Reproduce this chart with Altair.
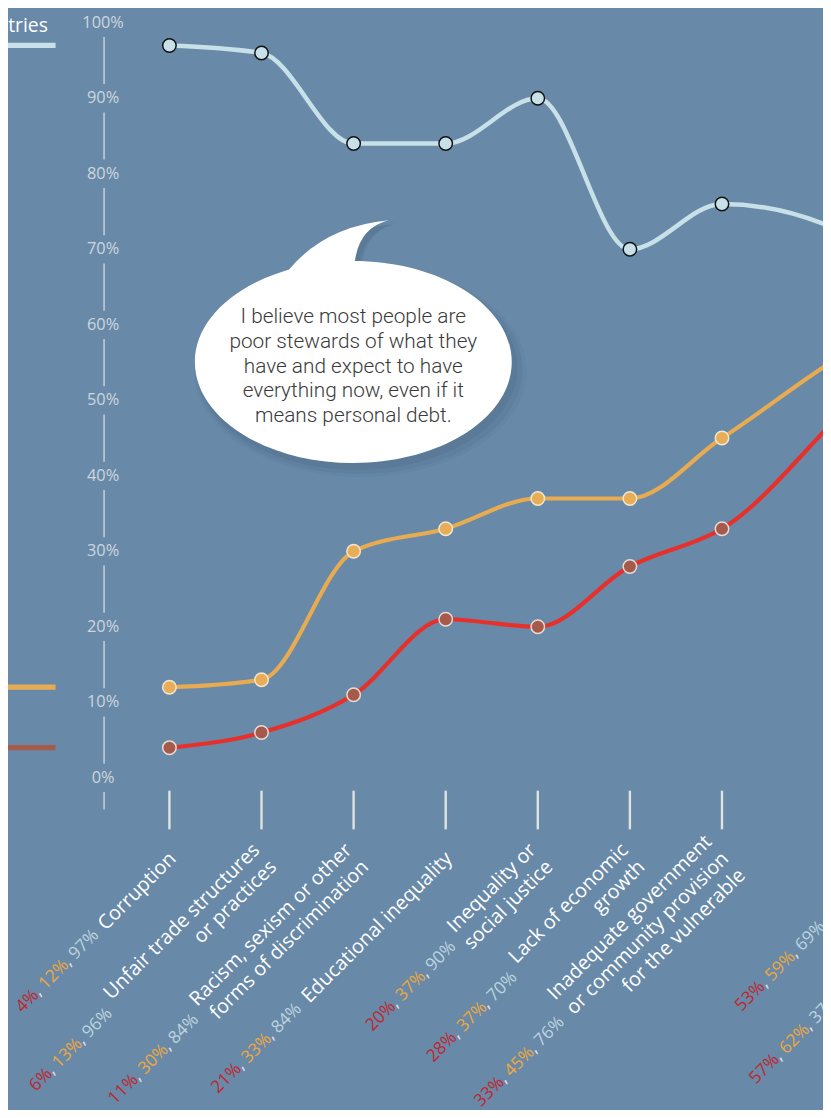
import altair as alt
import pandas as pd

# ---------------- data ----------------
category_names = [
    "Corruption",
    "Unfair trade structures\nor practices",
    "Racism, sexism or other\nforms of discrimination",
    "Educational inequality",
    "Inequality or\nsocial justice",
    "Lack of economic\ngrowth",
    "Inadequate government\nor community provision\nfor the vulnerable",
    "",
    "",
]
red_values = [4, 6, 11, 21, 20, 28, 33, 53, 57]
orange_values = [12, 13, 30, 33, 37, 37, 45, 59, 62]
grey_values = [97, 96, 84, 84, 90, 70, 76, 69, 37]
series_keys = ["grey", "orange", "red"]
legend_title = "Countries"
y_tick_values = [0, 10, 20, 30, 40, 50, 60, 70, 80, 90, 100]
quote_lines = [
    "I believe most people are",
    "poor stewards of what they",
    "have and expect to have",
    "everything now, even if it",
    "means personal debt.",
]

# ---------------- layout / style ----------------
W, H = 823, 1102
BG = "#6889a8"
FONT = "Open Sans"
x_scale = alt.Scale(domain=[0, 6, 7, 8], range=[163, 721, 888, 976], nice=False, zero=False)
y_scale = alt.Scale(domain=[0, 100], range=[772, 9.5], nice=False, zero=False)

LINE_COL = {"grey": "#c8e1e9", "orange": "#e9ab50", "red": "#e8302b"}
LINE_W = {"grey": 4.5, "orange": 4.2, "red": 4.2}
PT_FILL = {"grey": "#c8e1e9", "orange": "#e8ad57", "red": "#a65a4b"}
PT_STROKE = {"grey": "#111111", "orange": "#f1e7d3", "red": "#eadbd3"}
BAR_COL = {"grey": "#c8e1e9", "orange": "#e8ab55", "red": "#a65a4b"}
TXT_COL = {"red": "#c0262e", "orange": "#eea83f", "grey": "#bdd5de", "comma": "#e3e9ed"}
AXIS_COL = "#cdd7df"

NAME_SIZE, NAME_LH = 20, 24
PCT_SIZE = 17.5
ANCHOR_Y = 850.5
ANCHOR_DX = 3.5
GAP = 8
hidden_name_width = {7: 90, 8: 194}

OS_W = {' ': 532, ',': 502, '%': 1653, '.': 545, '-': 659,
        'A': 1296, 'B': 1327, 'C': 1292, 'D': 1493, 'E': 1139, 'F': 1057, 'G': 1491,
        'H': 1511, 'I': 571, 'J': 547, 'K': 1257, 'L': 1063, 'M': 1849, 'N': 1544,
        'O': 1595, 'P': 1233, 'Q': 1595, 'R': 1266, 'S': 1124, 'T': 1133, 'U': 1503,
        'V': 1219, 'W': 1896, 'X': 1182, 'Y': 1147, 'Z': 1169,
        'a': 1186, 'b': 1255, 'c': 1004, 'd': 1255, 'e': 1149, 'f': 694, 'g': 1122,
        'h': 1257, 'i': 518, 'j': 518, 'k': 1075, 'l': 518, 'm': 1905, 'n': 1257,
        'o': 1237, 'p': 1255, 'q': 1255, 'r': 836, 's': 977, 't': 723, 'u': 1257,
        'v': 1026, 'w': 1593, 'x': 1073, 'y': 1028, 'z': 977}
for d in "0123456789":
    OS_W[d] = 1171


def tw(s, size):
    return sum(OS_W.get(ch, 1150) for ch in s) / 2048.0 * size


# ---------------- tables ----------------
vals = {"grey": grey_values, "orange": orange_values, "red": red_values}
long_df = pd.DataFrame(
    [{"order": i, "series": k, "value": vals[k][i]} for k in series_keys for i in range(len(category_names))]
)
cat_df = pd.DataFrame({
    "order": list(range(len(category_names))),
    "name": category_names,
    "red": [f"{v}%" for v in red_values],
    "orange": [f"{v}%" for v in orange_values],
    "grey": [f"{v}%" for v in grey_values],
})
tick_df = pd.DataFrame({"v": y_tick_values, "label": [f"{v}%" for v in y_tick_values]})
seg_df = pd.DataFrame({"lo": y_tick_values[:-1], "hi": y_tick_values[1:]})
one = pd.DataFrame({"k": [0]})

X = alt.X("order:Q", scale=x_scale, axis=None)

layers = []

# y axis: labels and broken line
layers.append(alt.Chart(tick_df).mark_text(font=FONT, fontSize=16.5, color=AXIS_COL, align="center",
                                           baseline="middle").encode(
    x=alt.value(96), y=alt.Y("v:Q", scale=y_scale, axis=None), text="label:N"))
layers.append(alt.Chart(seg_df).mark_rule(color=AXIS_COL, strokeWidth=1.4, yOffset=-14.3, y2Offset=14.3).encode(
    x=alt.value(97), y=alt.Y("lo:Q", scale=y_scale, axis=None), y2="hi:Q"))
layers.append(alt.Chart(tick_df).transform_filter(alt.datum.v == 0).mark_rule(
    color=AXIS_COL, strokeWidth=1.4, yOffset=14.3, y2Offset=32).encode(
    x=alt.value(97), y=alt.Y("v:Q", scale=y_scale, axis=None), y2="v:Q"))

# category ticks
layers.append(alt.Chart(cat_df).mark_rule(color="#dfe4dc", strokeWidth=2.4).encode(
    x=X, y=alt.value(785), y2=alt.value(824)))

# legend swatches at start values
for k in series_keys:
    layers.append(alt.Chart(long_df).transform_filter(
        (alt.datum.series == k) & (alt.datum.order == 0)).mark_rule(
        color=BAR_COL[k], strokeWidth=5.3).encode(
        x=alt.value(-10), x2=alt.value(48), y=alt.Y("value:Q", scale=y_scale, axis=None)))
layers.append(alt.Chart(long_df).transform_filter(
    (alt.datum.series == "grey") & (alt.datum.order == 0)).mark_text(
    text=legend_title, font=FONT, fontSize=19.5, color="white", align="right", baseline="alphabetic",
    dy=-13.7).encode(x=alt.value(40.3), y=alt.Y("value:Q", scale=y_scale, axis=None)))

# lines
for k in series_keys:
    layers.append(alt.Chart(long_df).transform_filter(alt.datum.series == k).mark_line(
        interpolate="monotone", color=LINE_COL[k], strokeWidth=LINE_W[k]).encode(
        x=X, y=alt.Y("value:Q", scale=y_scale, axis=None), order="order:Q"))
# markers
for k in series_keys:
    layers.append(alt.Chart(long_df).transform_filter(alt.datum.series == k).mark_point(
        shape="circle", filled=True, size=185, opacity=1, fill=PT_FILL[k], stroke=PT_STROKE[k],
        strokeWidth=1.5).encode(x=X, y=alt.Y("value:Q", scale=y_scale, axis=None)))

# category labels (rotated) with coloured percentages
for i, name in enumerate(category_names):
    lines = name.split("\n") if name else []
    n = max(len(lines), 1)
    if lines:
        name_w = max(tw(s, NAME_SIZE) for s in lines)
        layers.append(alt.Chart(cat_df).transform_filter(alt.datum.order == i).mark_text(
            font=FONT, fontSize=NAME_SIZE, color="white", angle=315, align="right", baseline="alphabetic",
            lineBreak="\n", lineHeight=NAME_LH, dy=-(n - 1) * NAME_LH / 2 + 0.3 * NAME_SIZE,
            xOffset=ANCHOR_DX).encode(x=X, y=alt.value(ANCHOR_Y), text="name:N"))
    else:
        name_w = hidden_name_width[i]
    r, o, g = red_values[i], orange_values[i], grey_values[i]
    pieces = [(f"{r}%", "red"), (",", "comma"), (" ", None), (f"{o}%", "orange"), (",", "comma"),
              (" ", None), (f"{g}%", "grey")]
    full = "".join(p for p, _ in pieces)
    right = -(name_w + GAP)
    left = right - tw(full, PCT_SIZE)
    prefix = ""
    for txt, col in pieces:
        if col is not None:
            text_enc = alt.Text(f"{col}:N") if col in ("red", "orange", "grey") else alt.value(txt)
            layers.append(alt.Chart(cat_df).transform_filter(alt.datum.order == i).mark_text(
                font=FONT, fontSize=PCT_SIZE, color=TXT_COL[col], angle=315, align="left",
                baseline="alphabetic", dx=left + tw(prefix, PCT_SIZE), dy=0.3 * PCT_SIZE,
                xOffset=ANCHOR_DX).encode(x=X, y=alt.value(ANCHOR_Y), text=text_enc))
        prefix += txt

# speech bubble
k_ = 0.5523
ry = 0.6375
BUBBLE = (f"M-1,0 C-1,{-ry*k_:.4f} {-k_},{-ry} 0,{-ry} C{k_},{-ry} 1,{-ry*k_:.4f} 1,0 "
          f"C1,{ry*k_:.4f} {k_},{ry} 0,{ry} C{-k_},{ry} -1,{ry*k_:.4f} -1,0 Z "
          "M-0.417,-0.57 Q-0.1875,-0.854 0.221,-0.894 Q0.031,-0.844 0.008,-0.62 Z")
BX, BY, BS = 348.7, 352, 320
for ox, oy, sc, op in [(7, 9, 1.05, 0.04), (6, 8, 1.03, 0.06), (4, 6, 1.01, 0.08)]:
    layers.append(alt.Chart(one).mark_point(shape=BUBBLE, filled=True, fill="#1d3752", opacity=op,
                                            size=(BS * sc) ** 2, strokeWidth=0).encode(
        x=alt.value(BX + ox), y=alt.value(BY + oy)))
layers.append(alt.Chart(one).mark_point(shape=BUBBLE, filled=True, fill="white", opacity=1,
                                        size=BS ** 2, strokeWidth=0).encode(
    x=alt.value(BX), y=alt.value(BY)))
layers.append(alt.Chart(one).mark_text(text=quote_lines, font="Roboto", fontWeight=300, fontSize=21,
                                       color="#3a3a3a", align="center", baseline="alphabetic",
                                       lineHeight=25).encode(
    x=alt.value(BX), y=alt.value(312.7)))

chart = alt.layer(*layers).properties(
    width=W, height=H, autosize="none", padding=0, background=BG
).configure_view(stroke=None)

chart.save("out.html", embed_options={"renderer": "svg", "actions": False})
